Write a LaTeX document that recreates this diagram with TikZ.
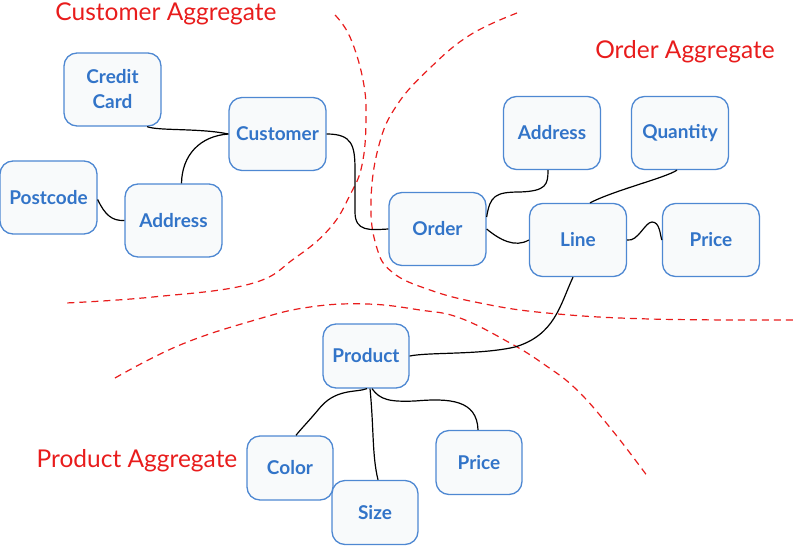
\documentclass[tikz,border=0pt]{standalone}
\usepackage{fontspec}
\setmainfont{Lato}

\definecolor{boxblue}{RGB}{78,136,210}
\definecolor{textblue}{RGB}{50,116,200}
\definecolor{boxfill}{RGB}{248,250,251}
\definecolor{aggred}{RGB}{232,28,28}

\begin{document}
\begin{tikzpicture}[
    x=1pt, y=-1pt, % pixel-like units, y pointing down
    entity/.style={draw=boxblue, line width=1.3pt, fill=boxfill, rounded corners=13pt,
        minimum width=97pt, minimum height=73pt, align=center, text=textblue,
        font=\fontsize{19}{25}\selectfont\bfseries}, % Style for entity boxes
    smallentity/.style={entity, minimum width=86pt, minimum height=64pt}, % Product boxes
    link/.style={black, line width=1.2pt}, % Style for connectors
    border/.style={aggred, line width=1.2pt, dash pattern=on 7pt off 5pt}, % Aggregate borders
    aggregate/.style={aggred, font=\fontsize{24.5}{28}\selectfont} % Aggregate titles
]
    \useasboundingbox (0,0) rectangle (800,546);

    % Aggregate borders
    \draw[border] plot[smooth, tension=0.7] coordinates {(335,15) (350,37) (363,80) (366,120)
        (362,165) (350,195) (330,228) (295,258) (250,284) (153,297) (66,303)};
    \draw[border] plot[smooth, tension=0.7] coordinates {(517,13) (470,35) (430,68) (397,105)
        (379,145) (371,200) (376,245) (392,272) (430,290) (480,303) (547,313) (650,319) (797,320)};
    \draw[border] plot[smooth, tension=0.7] coordinates {(115,378) (180,345) (255,320) (310,307)
        (367,304) (420,310) (460,318) (510,343) (545,365) (577,390) (612,430) (648,477)};

    % Aggregate titles
    \node[aggregate] (custagg) at (166,14) {Customer Aggregate};
    \node[aggregate] (ordagg) at (685,52) {Order Aggregate};
    \node[aggregate] (prodagg) at (137,461) {Product Aggregate};

    % Customer aggregate
    \node[entity] (card) at (112.5,89.5) {Credit\\Card};
    \node[entity] (customer) at (277.5,134) {Customer};
    \node[entity] (postcode) at (48.5,197.5) {Postcode};
    \node[entity] (custaddr) at (173.5,220.5) {Address};

    % Order aggregate
    \node[entity] (order) at (437.5,229) {Order};
    \node[entity] (ordaddr) at (552,133) {Address};
    \node[entity] (quantity) at (680,133) {Quantity};
    \node[entity] (line) at (578,240) {Line};
    \node[entity] (lineprice) at (711,240) {Price};

    % Product aggregate
    \node[smallentity] (product) at (366,356) {Product};
    \node[smallentity] (color) at (290,468) {Color};
    \node[smallentity] (size) at (375,512.5) {Size};
    \node[smallentity] (prodprice) at (479,462.5) {Price};

    % Connectors
    \draw[link] (card.-47) .. controls (158,131) and (200,128) .. (customer.west);
    \draw[link] ([xshift=8pt]custaddr.north) .. controls (182,155) and (200,136) .. (customer.west);
    \draw[link] ([yshift=-2pt]postcode.east) .. controls (105,215) and (112,221) .. (custaddr.west);
    \draw[link] (customer.east) .. controls (352,134) and (355,145) .. (355,170)
        -- (355,212) .. controls (355,232) and (370,230) .. (order.west);
    \draw[link] ([yshift=12pt]order.east) .. controls (490,196) and (495,192) .. (520,192)
        .. controls (546,191) and (548,185) .. ([xshift=-4pt]ordaddr.south);
    \draw[link] (order.east) .. controls (500,240) and (515,248) .. (line.west);
    \draw[link] ([xshift=12pt]line.north) .. controls (615,190) and (665,178) .. ([xshift=-3pt]quantity.south);
    \draw[link] (line.east) .. controls (638,242) and (645,222) .. (652,222)
        .. controls (660,222) and (660,235) .. (lineprice.west);
    \draw[link] ([xshift=-5pt]line.south) .. controls (560,305) and (555,335) .. (515,347)
        .. controls (480,355) and (430,352) .. (product.east);
    \draw[link] ([xshift=1pt]product.south) .. controls (355,393) and (335,388) .. (318,410)
        .. controls (308,422) and (300,430) .. ([xshift=6pt]color.north);
    \draw[link] ([xshift=4pt]product.south) .. controls (374,430) and (372,455) .. ([xshift=3pt]size.north);
    \draw[link] ([xshift=6pt]product.south) .. controls (380,400) and (390,402) .. (415,401)
        .. controls (450,398) and (477,400) .. ([xshift=-1pt]prodprice.north);

\end{tikzpicture}
\end{document}
